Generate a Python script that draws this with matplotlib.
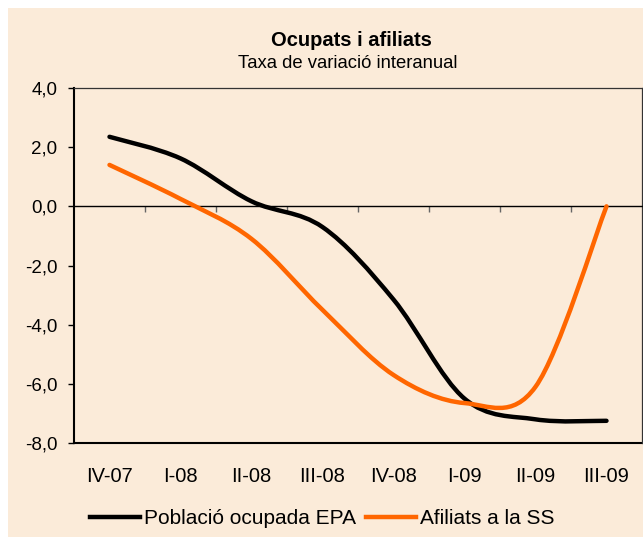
import numpy as np
import matplotlib
matplotlib.use("Agg")
import matplotlib.pyplot as plt
from matplotlib.path import Path
from matplotlib.patches import PathPatch, Rectangle
from matplotlib.lines import Line2D
from matplotlib.ticker import FuncFormatter

plt.rcParams["font.family"] = ["Liberation Sans", "DejaVu Sans"]

quarters = ["IV-07", "I-08", "II-08", "III-08", "IV-08", "I-09", "II-09", "III-09"]
poblacio_epa = [2.35, 1.62, 0.17, -0.7, -3.15, -6.5, -7.2, -7.25]
afiliats_ss = [1.4, 0.25, -1.1, -3.5, -5.7, -6.65, -6.1, 0.0]

BG = "#FBEBD9"
BLACK, ORANGE = "#000000", "#FF6600"


def smooth_path(xs, ys):
    """Excel-style smoothed line: cubic Bezier through each point."""
    pts = np.column_stack([xs, ys]).astype(float)
    n = len(pts)
    verts, codes = [pts[0]], [Path.MOVETO]
    for i in range(n - 1):
        p_prev = pts[i - 1] if i > 0 else pts[i]
        p_next2 = pts[i + 2] if i + 2 < n else pts[i + 1]
        c1 = pts[i] + (pts[i + 1] - p_prev) / 6
        c2 = pts[i + 1] - (p_next2 - pts[i]) / 6
        verts += [c1, c2, pts[i + 1]]
        codes += [Path.CURVE4] * 3
    return Path(verts, codes)


fig = plt.figure(figsize=(6.43, 5.40), dpi=100)
fig.patch.set_facecolor("white")
fig.patches.append(Rectangle((8 / 643, 3 / 540), 1, 1 - 11 / 540, transform=fig.transFigure,
                             facecolor=BG, edgecolor="none", zorder=-10))

ax = fig.add_axes([74 / 643, 1 - 443 / 540, 568 / 643, 355 / 540])
ax.set_facecolor(BG)
x = np.arange(len(quarters))

for vals, col in [(poblacio_epa, BLACK), (afiliats_ss, ORANGE)]:
    ax.add_patch(PathPatch(smooth_path(x, vals), facecolor="none", edgecolor=col,
                           lw=3.2, capstyle="round", joinstyle="round", zorder=3))

ax.set_xlim(-0.5, len(quarters) - 0.5)
ax.set_ylim(-8, 4)
ax.set_yticks(np.arange(-8, 4.1, 2))
ax.yaxis.set_major_formatter(FuncFormatter(lambda v, p: f"{v:.1f}".replace(".", ",")))
ax.tick_params(axis="y", length=4, width=1, direction="out", pad=8, labelsize=13.5)

# category axis crosses at zero
ax.spines["bottom"].set_position(("data", 0))
ax.spines["bottom"].set_linewidth(1.0)
ax.set_xticks(x)
ax.set_xticklabels([])
ax.set_xticks(x[:-1] + 0.5, minor=True)
ax.tick_params(axis="x", which="major", length=0)
ax.tick_params(axis="x", which="minor", length=4, width=1, color="#666666", direction="out")

sec = ax.secondary_xaxis(0.0)
sec.set_xticks(x)
sec.set_xticklabels(quarters)
sec.tick_params(length=0, pad=17, labelsize=14.5)
sec.spines["bottom"].set_linewidth(1.5)

ax.spines["left"].set_linewidth(1.5)
for s in ["top", "right"]:
    ax.spines[s].set_linewidth(0.9)
    ax.spines[s].set_color("#333333")

fig.text(351 / 643, 1 - 40 / 540, "Ocupats i afiliats", ha="center", va="center",
         fontsize=14.5, fontweight="bold")
fig.text(348 / 643, 1 - 64 / 540, "Taxa de variació interanual", ha="center", va="center",
         fontsize=13.3)

handles = [Line2D([], [], color=BLACK, lw=3.2), Line2D([], [], color=ORANGE, lw=3.2)]
fig.legend(handles, ["Població ocupada EPA", "Afiliats a la SS"], loc="center left",
           bbox_to_anchor=(90 / 643, 1 - 519 / 540), ncol=2, frameon=False, fontsize=15,
           handlelength=2.4, handletextpad=0.2, columnspacing=0.45, borderaxespad=0,
           borderpad=0)

fig.savefig("out.png", dpi=100, facecolor=fig.get_facecolor())
